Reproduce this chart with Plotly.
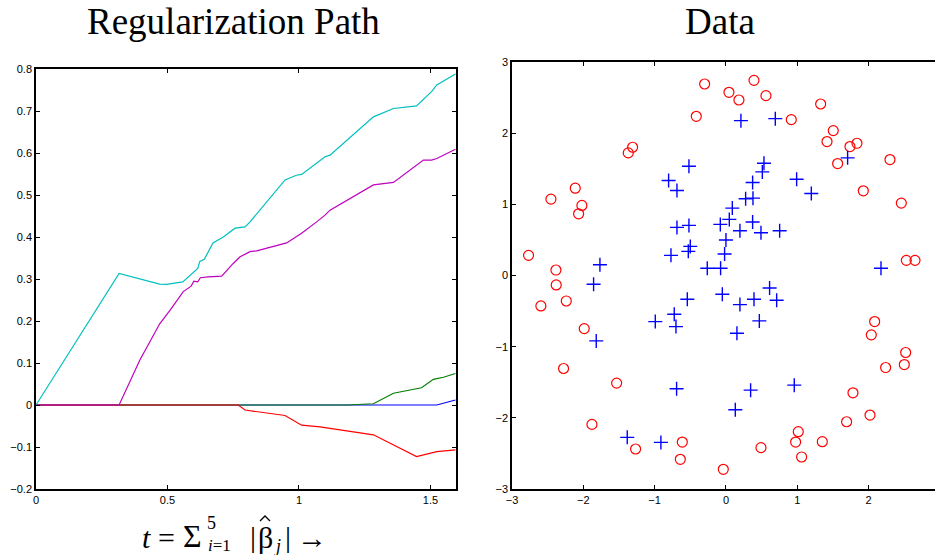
import plotly.graph_objects as go

# ---------------- data: regularization path ----------------
blue_t = [0, 1.18, 1.283, 1.36, 1.45, 1.524, 1.595]
blue_b = [0, 0, 0.001, 0.001, 0.0, 0.0, 0.012]

green_t = [0, 1.18, 1.283, 1.359, 1.466, 1.511, 1.549, 1.595]
green_b = [0, 0, 0.003, 0.028, 0.041, 0.061, 0.066, 0.075]

red_t = [0, 0.769, 0.795, 0.947, 1.01, 1.08, 1.283, 1.447, 1.524, 1.595]
red_b = [0, 0, -0.012, -0.025, -0.048, -0.052, -0.071, -0.123, -0.111, -0.107]

cyan_t = [0, 0.316, 0.47, 0.497, 0.558, 0.605, 0.615, 0.623, 0.64, 0.673, 0.712,
          0.757, 0.795, 0.814, 0.947, 0.99, 1.01, 1.099, 1.118, 1.283, 1.359,
          1.447, 1.504, 1.524, 1.595]
cyan_b = [0, 0.313, 0.288, 0.287, 0.293, 0.321, 0.325, 0.342, 0.347, 0.386, 0.40,
          0.421, 0.424, 0.436, 0.536, 0.547, 0.549, 0.591, 0.595, 0.686, 0.706,
          0.712, 0.746, 0.762, 0.788]

magenta_t = [0, 0.316, 0.395, 0.471, 0.51, 0.56, 0.59, 0.6, 0.615, 0.625, 0.655,
             0.706, 0.75, 0.776, 0.814, 0.839, 0.953, 1.01, 1.067, 1.099, 1.118,
             1.283, 1.359, 1.473, 1.504, 1.524, 1.595]
magenta_b = [0, 0, 0.107, 0.194, 0.226, 0.270, 0.283, 0.295, 0.293, 0.303, 0.305,
             0.307, 0.337, 0.353, 0.365, 0.367, 0.386, 0.409, 0.436, 0.452, 0.464,
             0.524, 0.530, 0.583, 0.583, 0.587, 0.609]

# ---------------- data: scatter ----------------
circ_x = [-2.454, -2.113, -2.020, -2.066, -1.370, -1.309, -0.416, -0.299, 0.042, 0.182,
          0.393, 0.561, 0.916, 1.328, 1.505, 1.417, 1.566, 1.739, 1.837, 2.300,
          1.926, 2.459,
          -2.768, -2.384, -2.380, -2.595, -2.239, -1.987, -2.277, 2.529, 2.651, 2.085,
          2.038, 2.520, 2.239, 2.501,
          -1.533, -1.879, -1.267, -0.612, -0.640, -0.037, 0.491, 0.977, 1.014, 1.061,
          1.351, 1.781, 1.692, 2.020]
circ_y = [1.073, 1.227, 0.984, 0.867, 1.723, 1.802, 2.237, 2.691, 2.574, 2.466,
          2.742, 2.527, 2.190, 2.410, 2.036, 1.882, 1.573, 1.812, 1.858, 1.629,
          1.190, 1.017,
          0.283, 0.077, -0.133, -0.428, -0.358, -0.746, -1.307, 0.213, 0.213, -0.647,
          -0.834, -1.082, -1.293, -1.251,
          -1.512, -2.092, -2.438, -2.340, -2.583, -2.723, -2.419, -2.340, -2.195, -2.550,
          -2.335, -1.648, -2.055, -1.961]

plus_x = [0.210, 0.692, 1.706, 0.533, 0.510, 0.374, 0.276, 0.379, 0.089, -0.519,
          -0.804, -0.687, 0.991, 1.197, 0.047, -0.079, 0.374, -0.519,
          -0.687, 0.196, 0.491, 0.753, 0.0, -0.771, -0.528, -0.500, -0.019, -0.262,
          -0.075, -1.767, -1.856, -0.542, -0.051, 0.196, 0.393, 0.612, 0.711, 0.468,
          0.154, -0.991, -0.725, -0.701, -1.819, 2.174,
          -0.692, 0.346, 0.958, 0.131, -1.384, -0.912]
plus_y = [2.176, 2.204, 1.653, 1.578, 1.456, 1.307, 1.078, 1.087, 0.947, 1.536,
          1.335, 1.195, 1.353, 1.152, 0.788, 0.718, 0.751, 0.704,
          0.676, 0.629, 0.601, 0.629, 0.498, 0.283, 0.339, 0.409, 0.302, 0.101,
          0.101, 0.152, -0.124, -0.334, -0.264, -0.409, -0.334, -0.175, -0.348, -0.638,
          -0.811, -0.648, -0.545, -0.718, -0.919, 0.101,
          -1.592, -1.611, -1.541, -1.886, -2.274, -2.345]

left_xticks = [0, 0.5, 1, 1.5]
left_xlabels = ["0", "0.5", "1", "1.5"]
left_yticks = [-0.2, -0.1, 0, 0.1, 0.2, 0.3, 0.4, 0.5, 0.6, 0.7, 0.8]
left_ylabels = ["\u22120.2", "\u22120.1", "0", "0.1", "0.2", "0.3", "0.4",
                "0.5", "0.6", "0.7", "0.8"]
right_xticks = [-3, -2, -1, 0, 1, 2, 3]
right_yticks = [-3, -2, -1, 0, 1, 2, 3]

W, H = 935, 555
fig = go.Figure()

paths = [(blue_t, blue_b, "#0000ff"), (green_t, green_b, "#008000"),
         (red_t, red_b, "#ff0000"), (cyan_t, cyan_b, "#00bfbf"),
         (magenta_t, magenta_b, "#bf00bf")]
for t, b, c in paths:
    fig.add_trace(go.Scatter(x=t, y=b, mode="lines", line=dict(color=c, width=1.2),
                             xaxis="x", yaxis="y", showlegend=False, hoverinfo="skip"))

fig.add_trace(go.Scatter(x=circ_x, y=circ_y, mode="markers", xaxis="x2", yaxis="y2",
                         marker=dict(symbol="circle-open", size=10, color="#ff0000",
                                     line=dict(width=1.2)),
                         showlegend=False))
fig.add_trace(go.Scatter(x=plus_x, y=plus_y, mode="markers", xaxis="x2", yaxis="y2",
                         marker=dict(symbol="cross-thin-open", size=10, color="#0000ff",
                                     line=dict(width=1.4)),
                         showlegend=False))

tickfont = dict(family="Liberation Sans, Arial, sans-serif", size=11, color="black")
common = dict(showgrid=False, zeroline=False, showline=True, linecolor="black",
              linewidth=1.5, ticks="inside", ticklen=4, tickcolor="black",
              tickfont=tickfont, mirror="ticks", automargin=False)

fig.update_layout(
    width=W, height=H, margin=dict(l=0, r=0, t=0, b=0, pad=0, autoexpand=False),
    paper_bgcolor="white", plot_bgcolor="white",
    xaxis=dict(domain=[36 / W, 456 / W], range=[0, 1.597], tickvals=left_xticks,
               ticktext=left_xlabels, anchor="y", **common),
    yaxis=dict(domain=[1 - 489 / H, 1 - 69 / H], range=[-0.2, 0.8],
               tickvals=left_yticks, ticktext=left_ylabels, anchor="x", **common),
    xaxis2=dict(domain=[512 / W, 1.0], range=[-3, (W - 726) / 71.3],
                tickvals=right_xticks, anchor="y2", **common),
    yaxis2=dict(domain=[1 - 489 / H, 1 - 62 / H], range=[-3, 3],
                tickvals=right_yticks, anchor="x2",
                **{**common, "mirror": False}),
)

serif = "Liberation Serif, Times New Roman, serif"


def ann(text, px, py, size, xanchor="center", yanchor="middle"):
    fig.add_annotation(text=text, x=px / W, y=1 - py / H, xref="paper", yref="paper",
                       showarrow=False, xanchor=xanchor, yanchor=yanchor,
                       font=dict(family=serif, size=size, color="black"))


ann("Regularization Path", 234, 21, 37)
ann("Data", 720, 21, 37)

# x-axis label of the left panel: t = sum_{i=1}^5 |beta_hat_j| ->
ann("<i>t</i>", 146, 537, 30)
ann("=", 166, 537, 30)
ann("\u03a3", 192, 536, 32)
ann("5", 211, 523, 18)
ann("<i>i</i>=1", 206, 545, 17, xanchor="left")
ann("|", 253, 536, 30)
ann("\u03b2", 265, 537, 30)
ann("<i>j</i>", 277, 546, 18)
ann("|", 288, 536, 30)
ann("\u2192", 312, 537, 30)


# hat accent over beta drawn as a small caret
def px2x(px):
    return px / W


def py2y(py):
    return 1 - py / H


fig.add_shape(type="path", xref="paper", yref="paper",
              path=f"M {px2x(260)},{py2y(521)} L {px2x(265)},{py2y(516)} "
                   f"L {px2x(270)},{py2y(521)}",
              line=dict(color="black", width=1.3))

fig.write_html("out.html", config={"displayModeBar": False},
               post_script="document.body.style.margin='0';")
